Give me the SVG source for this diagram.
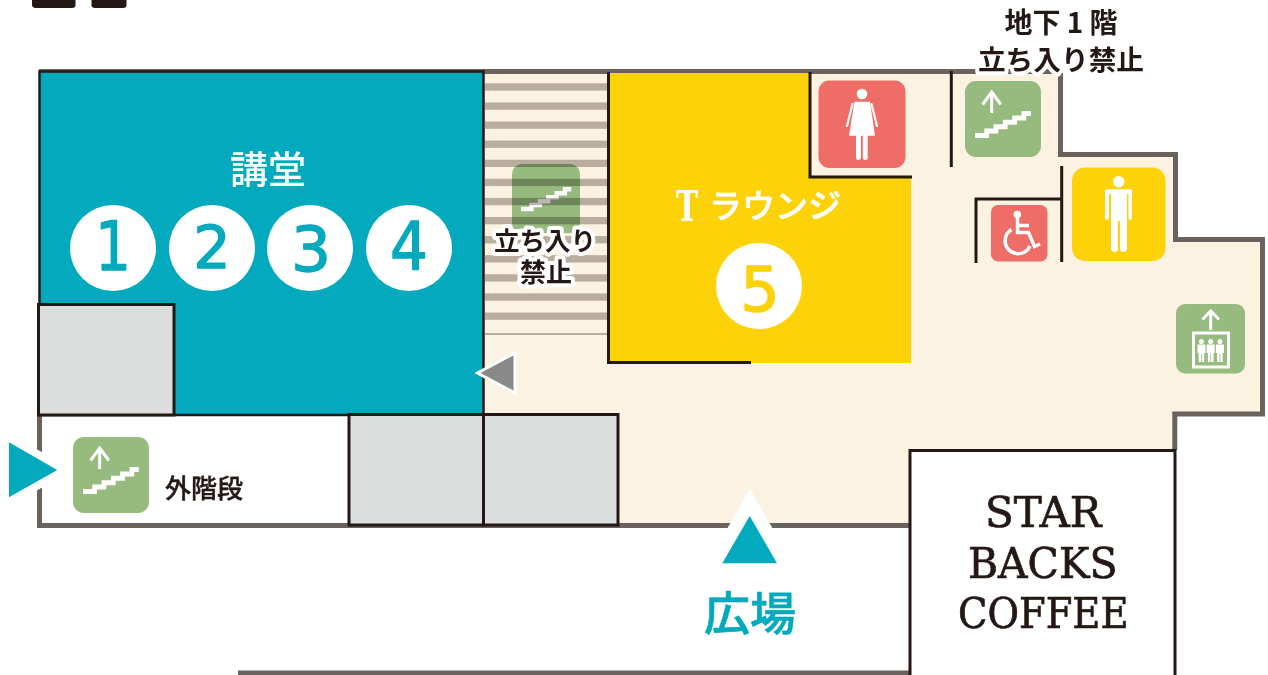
<svg xmlns="http://www.w3.org/2000/svg" xmlns:xlink="http://www.w3.org/1999/xlink" width="1268" height="675" viewBox="0 0 1268 675">
<style>
.jp{font-family:"Noto Sans CJK JP","Noto Sans",sans-serif;font-weight:500;fill:#231815;text-anchor:middle}
.b{font-weight:700}
.halo{stroke:#fff;stroke-width:8;stroke-linejoin:round;paint-order:stroke}
.w{fill:#fff}
.num{font-family:"DejaVu Sans",sans-serif;text-anchor:middle;stroke-width:1.3;stroke-linejoin:round}
.teal{fill:#03a9bc;stroke:#03a9bc}
.yel{fill:#fdd209;stroke:#fdd209}
.ink{fill:none;stroke:#231815;stroke-width:3}
.wall{fill:none;stroke:#6a625c;stroke-width:5}
.gray{fill:#dcdddd;stroke:#231815;stroke-width:3}
.green{fill:#97ba7f}
.red{fill:#ee6e67}
.arrow{fill:none;stroke:#fff;stroke-width:3}
.serif{font-family:"DejaVu Serif","Liberation Serif",serif;font-size:42px;fill:#231815;stroke:#231815;stroke-width:.7;text-anchor:start}
.stripe{mix-blend-mode:multiply}
.stripe rect{fill:#bbb6b4}
</style>
<defs>
<path id="stair" class="w" d="M10 52h9.3v-4.4h9.3v-4.4h9.3v-4.4h9.3v-4.4h9.3v-4.4h9.3v5h-4.600v4.400h-9.300v4.400h-9.300v4.400h-9.300v4.400h-9.300v4.400H10z"/>
<g id="stairbox">
<rect class="green" width="76" height="76" rx="11"/>
<use href="#stair" xlink:href="#stair"/>
<path class="arrow" d="M26.700 11V32M17.600 23.500L26.700 11L35.800 23.500"/>
</g>
<g id="person" class="w">
<circle cx="0" cy="2.500" r="2.500"/>
<path d="M-4 5.500H4V14H2.800V23H.4V15H-.4V23H-2.800V14H-4Z"/>
</g>
</defs>

<g id="floor">
<path fill="#fcf2e1" d="M484 72H1060V154H1175V239H1262V414H1175V450H909V525H484Z"/>
<path fill="#fff" d="M42 416H349V523H42Z"/>
</g>

<g id="connectors">
<path class="wall" d="M39.500 415V525.500H909"/>
<path class="wall" d="M39 71.500H1060.500V154.500H1175.500V239.500H1262.500V414H1174.800V450"/>
<path class="wall" d="M238 673H909"/>
<path class="ink" d="M951.300 71V167"/>
<path class="ink" d="M976 263V199H1061.700M1061.700 166V262"/>
</g>

<g id="stairs-closed">
<rect class="green" x="512" y="164" width="68" height="69" rx="10"/>
<use href="#stair" xlink:href="#stair" transform="translate(512 160) scale(.9)"/>
<g class="stripe">
<rect x="485" y="83.300" width="122" height="7.300"/><rect x="485" y="102.400" width="122" height="7.300"/><rect x="485" y="121.500" width="122" height="7.300"/><rect x="485" y="140.600" width="122" height="7.300"/><rect x="485" y="159.700" width="122" height="7.300"/><rect x="485" y="178.800" width="122" height="7.300"/><rect x="485" y="197.900" width="122" height="7.300"/><rect x="485" y="217" width="122" height="7.300"/><rect x="485" y="236.100" width="122" height="7.300"/><rect x="485" y="255.200" width="122" height="7.300"/><rect x="485" y="274.300" width="122" height="7.300"/><rect x="485" y="293.400" width="122" height="7.300"/><rect x="485" y="312.500" width="122" height="7.300"/><rect x="485" y="333" width="122" height="2"/>
</g>
<text class="jp b halo" x="545" y="250" font-size="25.500">立ち入り</text>
<text class="jp b halo" x="546" y="282" font-size="26">禁止</text>
</g>

<g id="hall">
<rect x="39.500" y="71.500" width="444" height="343.500" fill="#03a9bc" stroke="#231815" stroke-width="2.500"/>
<text x="268" y="183" font-size="38" class="jp" style="fill:#fff">講堂</text>
<circle class="w" cx="113" cy="248" r="43"/><text class="num teal" x="113" y="270" font-size="68" textLength="36" lengthAdjust="spacingAndGlyphs">1</text>
<circle class="w" cx="212" cy="248" r="43"/><text class="num teal" x="212" y="268" font-size="59">2</text>
<circle class="w" cx="310" cy="248" r="43"/><text class="num teal" x="311" y="271" font-size="63">3</text>
<circle class="w" cx="409" cy="248" r="43"/><text class="num teal" x="409" y="269" font-size="66" textLength="38" lengthAdjust="spacingAndGlyphs">4</text>
</g>

<g id="storage">
<rect class="gray" x="38.500" y="304.500" width="135.500" height="110.500"/>
<rect class="gray" x="349" y="414.500" width="134.500" height="110.500"/>
<rect class="gray" x="483.500" y="414.500" width="134.500" height="110.500"/>
</g>

<g id="lounge">
<path fill="#fdd209" d="M609 73H811V178H911V363H609Z"/>
<path class="ink" d="M608.500 72V362.500H751"/>
<path class="ink" d="M810 72V177H912"/>
<text x="676" y="221" font-family="DejaVu Serif,serif" font-weight="700" font-size="42" fill="#fff" textLength="22" lengthAdjust="spacingAndGlyphs">T</text>
<text x="775" y="218" font-size="33" class="jp" style="fill:#fff;stroke:#fff;stroke-width:.6">ラウンジ</text>
<circle class="w" cx="759" cy="286" r="43"/><text class="num yel" x="760" y="311" font-size="62">5</text>
</g>

<g id="wc-female">
<rect class="red" x="818.500" y="80.500" width="87" height="87.500" rx="11"/>
<circle class="w" cx="862" cy="94" r="5.300"/>
<path class="w" d="M854.500 101.700H870L875 135.700H867.700V158Q867.700 160 865.200 160Q862.800 160 862.800 158V135.700H860.900V158Q860.900 160 858.400 160Q856 160 856 158V135.700H849Z"/>
<path d="M852.500 104L847 126M871.500 104L877 126" fill="none" stroke="#fff" stroke-width="2.200" stroke-linecap="round"/>
</g>

<g id="stairs-b1">
<use href="#stairbox" xlink:href="#stairbox" transform="translate(965 81)"/>
</g>
<text id="b1-label-1" class="jp b" x="1061" y="33" font-size="28">地下 1 階</text>
<text id="b1-label-2" class="jp b halo" x="1061" y="70" font-size="27.700">立ち入り禁止</text>

<g id="wc-accessible">
<rect class="red" x="991" y="205" width="56.500" height="56.500" rx="7"/>
<circle class="w" cx="1017.300" cy="214.500" r="3.800"/>
<path d="M1017.500 218V232.500H1028.500L1034.500 246.500L1040 244M1018 225.500H1029" fill="none" stroke="#fff" stroke-width="3.500"/>
<path d="M1011.500 229.500A13 13 0 1 0 1030 246" fill="none" stroke="#fff" stroke-width="3.500"/>
</g>

<g id="wc-male">
<rect x="1072" y="167.500" width="93.500" height="93.500" rx="13" fill="#fdd209"/>
<circle class="w" cx="1118.700" cy="181.700" r="5.700"/>
<path class="w" d="M1107 189.300H1130.500Q1132 189.300 1132 191V218Q1132 220 1130.500 220Q1129 220 1128.500 218V194H1127V248Q1127 252 1123.500 252Q1120 252 1120 248V221H1118V248Q1118 252 1114.500 252Q1111 252 1111 248V194H1109V218Q1109 220 1107 220Q1105 220 1105 218V191Q1105 189.300 1107 189.300Z"/>
</g>

<g id="elevator">
<rect class="green" x="1176" y="304" width="69" height="69.500" rx="9"/>
<path class="arrow" d="M1210.700 311V330M1202.500 319.500L1210.700 311L1219 319.500"/>
<rect x="1193.500" y="333" width="35" height="34" fill="none" stroke="#fff" stroke-width="3"/>
<use href="#person" xlink:href="#person" transform="translate(1201.500 339)"/>
<use href="#person" xlink:href="#person" transform="translate(1210.700 339)"/>
<use href="#person" xlink:href="#person" transform="translate(1219.900 339)"/>
</g>

<g id="external-stairs">
<use href="#stairbox" xlink:href="#stairbox" transform="translate(73 437)"/>
<text class="jp" x="204" y="498" font-size="26" style="stroke:#231815;stroke-width:.4">外階段</text>
</g>

<g id="entry-left">
<path d="M9 442.500V497L57 470Z" fill="#03a9bc" stroke="#fff" stroke-width="16" paint-order="stroke"/>
<path d="M9 442.500V497L57 470Z" fill="#03a9bc"/>
</g>
<g id="entry-hall">
<path d="M515 353V393L477.500 373Z" fill="#898989" stroke="#fff" stroke-width="3"/>
</g>
<g id="entry-plaza">
<path d="M749.700 489L777 536H723Z" fill="#fff"/>
<path d="M749.700 516L777 563.300H722.300Z" fill="#03a9bc"/>
<text class="jp" x="750" y="630" font-size="46" style="fill:#03a9bc;stroke:#03a9bc;stroke-width:.6">広場</text>
</g>

<g id="starbucks">
<rect x="910" y="450.500" width="265" height="227" fill="#fff" stroke="#231815" stroke-width="3"/>
<text class="serif" x="985" y="527" textLength="116.500" lengthAdjust="spacingAndGlyphs">STAR</text>
<text class="serif" x="968" y="578" textLength="149.500" lengthAdjust="spacingAndGlyphs">BACKS</text>
<text class="serif" x="958" y="628" textLength="170.500" lengthAdjust="spacingAndGlyphs">COFFEE</text>
</g>

<g id="top-marks" fill="#231815">
<path d="M32 -6H75.500V5Q75.500 8 72 8H36Q32 8 32 5Z"/>
<path d="M91.500 -6H126.500V5Q126.500 8 123 8H95Q91.500 8 91.500 5Z"/>
</g>
</svg>
